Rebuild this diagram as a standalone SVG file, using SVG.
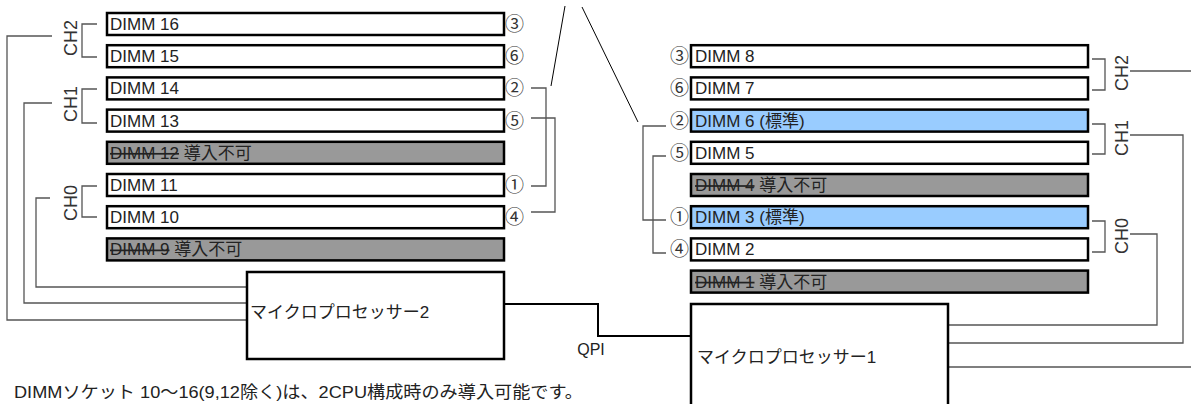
<svg xmlns="http://www.w3.org/2000/svg" width="1191" height="404" viewBox="0 0 1191 404">
<style>
text{font-family:"Liberation Sans","Noto Sans CJK JP",sans-serif;font-size:17px;fill:#222}
.num{font-family:"Noto Sans CJK JP","DejaVu Sans",sans-serif;font-size:19px;fill:#333}
.ch{font-size:18px;fill:#333}
.slot{fill:#fff;stroke:#000;stroke-width:2.5}
.std{fill:#99ccff;stroke:#000;stroke-width:2.5}
.na{fill:#999;stroke:#000;stroke-width:2.5}
.cpu{fill:#fff;stroke:#000;stroke-width:2.5}
.ln{fill:none;stroke:#555;stroke-width:1.3}
.blk{fill:none;stroke:#000;stroke-width:1}
.qpi{fill:none;stroke:#000;stroke-width:2}
.strike{text-decoration:line-through}
</style>
<g id="connectors">
<path class="blk" d="M565,6 L551,86"/>
<path class="blk" d="M582,7 L638,122"/>
<path class="ln" d="M531,88 H546 V186 H531"/>
<path class="ln" d="M531,118 H555 V212 H531"/>
<path class="ln" d="M666,126 H643 V220 H666"/>
<path class="ln" d="M666,156 H653 V253 H666"/>
<path class="ln" d="M97,24 H82 V57 H97"/>
<path class="ln" d="M97,89 H82 V123 H97"/>
<path class="ln" d="M97,186 H82 V217 H97"/>
<path class="ln" d="M52,36 H7 V320 H246"/>
<path class="ln" d="M52,103 H24 V303 H246"/>
<path class="ln" d="M50,198 H36 V287 H246"/>
<path class="ln" d="M1092,59 H1105 V90 H1092"/>
<path class="ln" d="M1092,124 H1105 V154 H1092"/>
<path class="ln" d="M1092,221 H1105 V252 H1092"/>
<path class="ln" d="M1130,71 H1191"/>
<path class="ln" d="M1130,135 H1183 V343 H949"/>
<path class="ln" d="M1130,234 H1157 V325 H949"/>
<path class="ln" d="M949,367 H1191"/>
<path class="qpi" d="M504,304 H598 V336 H691"/>
</g>
<g id="labels">
<text class="ch" transform="translate(77,38) rotate(-90)" text-anchor="middle">CH2</text>
<text class="ch" transform="translate(77,104) rotate(-90)" text-anchor="middle">CH1</text>
<text class="ch" transform="translate(77,203) rotate(-90)" text-anchor="middle">CH0</text>
<text class="ch" transform="translate(1128,73) rotate(-90)" text-anchor="middle">CH2</text>
<text class="ch" transform="translate(1128,138) rotate(-90)" text-anchor="middle">CH1</text>
<text class="ch" transform="translate(1128,236) rotate(-90)" text-anchor="middle">CH0</text>
<text x="591" y="355" text-anchor="middle" style="font-size:16px">QPI</text>
<text x="14" y="398" textLength="569" lengthAdjust="spacingAndGlyphs">DIMMソケット 10～16(9,12除く)は、2CPU構成時のみ導入可能です。</text>
</g>
<g id="dimm16"><rect class="slot" x="107" y="13" width="397" height="22"/><text x="110" y="30">DIMM 16</text><text class="num" x="505" y="31">③</text></g>
<g id="dimm15"><rect class="slot" x="107" y="45.2" width="397" height="22"/><text x="110" y="62.2">DIMM 15</text><text class="num" x="505" y="63.2">⑥</text></g>
<g id="dimm14"><rect class="slot" x="107" y="77.4" width="397" height="22"/><text x="110" y="94.4">DIMM 14</text><text class="num" x="505" y="95.4">②</text></g>
<g id="dimm13"><rect class="slot" x="107" y="109.6" width="397" height="22"/><text x="110" y="126.6">DIMM 13</text><text class="num" x="505" y="127.6">⑤</text></g>
<g id="dimm12"><rect class="na" x="107" y="141.8" width="397" height="22"/><text x="110" y="158.8"><tspan class="strike">DIMM 12</tspan> 導入不可</text></g>
<g id="dimm11"><rect class="slot" x="107" y="174" width="397" height="22"/><text x="110" y="191">DIMM 11</text><text class="num" x="505" y="192">①</text></g>
<g id="dimm10"><rect class="slot" x="107" y="206.2" width="397" height="22"/><text x="110" y="223.2">DIMM 10</text><text class="num" x="505" y="224.2">④</text></g>
<g id="dimm9"><rect class="na" x="107" y="238.4" width="397" height="22"/><text x="110" y="255.4"><tspan class="strike">DIMM 9</tspan> 導入不可</text></g>
<g id="dimm8"><rect class="slot" x="691" y="45.2" width="397" height="22"/><text x="695" y="62.2">DIMM 8</text><text class="num" x="670" y="63.2">③</text></g>
<g id="dimm7"><rect class="slot" x="691" y="77.4" width="397" height="22"/><text x="695" y="94.4">DIMM 7</text><text class="num" x="670" y="95.4">⑥</text></g>
<g id="dimm6"><rect class="std" x="691" y="109.6" width="397" height="22"/><text x="695" y="126.6">DIMM 6 (標準)</text><text class="num" x="670" y="127.6">②</text></g>
<g id="dimm5"><rect class="slot" x="691" y="141.8" width="397" height="22"/><text x="695" y="158.8">DIMM 5</text><text class="num" x="670" y="159.8">⑤</text></g>
<g id="dimm4"><rect class="na" x="691" y="174" width="397" height="22"/><text x="695" y="191"><tspan class="strike">DIMM 4</tspan> 導入不可</text></g>
<g id="dimm3"><rect class="std" x="691" y="206.2" width="397" height="22"/><text x="695" y="223.2">DIMM 3 (標準)</text><text class="num" x="670" y="224.2">①</text></g>
<g id="dimm2"><rect class="slot" x="691" y="238.4" width="397" height="22"/><text x="695" y="255.4">DIMM 2</text><text class="num" x="670" y="256.4">④</text></g>
<g id="dimm1"><rect class="na" x="691" y="270.6" width="397" height="22"/><text x="695" y="287.6"><tspan class="strike">DIMM 1</tspan> 導入不可</text></g>
<g id="cpu2"><rect class="cpu" x="247" y="272" width="257" height="87"/><text x="250" y="318">マイクロプロセッサー2</text></g>
<g id="cpu1"><rect class="cpu" x="691" y="304" width="257" height="112"/><text x="697" y="363">マイクロプロセッサー1</text></g>
</svg>
